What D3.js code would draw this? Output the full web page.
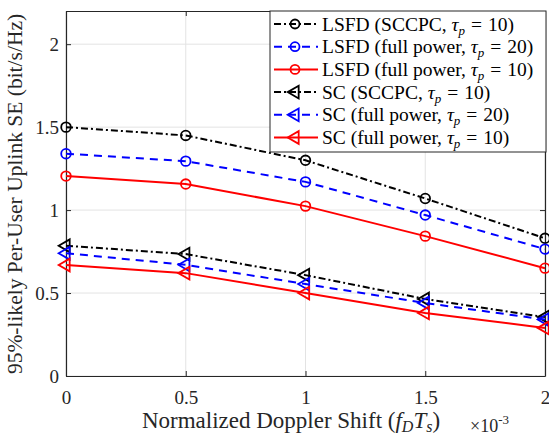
<!DOCTYPE html>
<html>
<head>
<meta charset="utf-8">
<script src="https://cdn.jsdelivr.net/npm/d3@7"></script>
<style>
body { margin: 0; background: #fff; }
text { font-family: "Liberation Serif", "DejaVu Serif", serif; }
</style>
</head>
<body>
<svg id="chart" width="549" height="436"></svg>
<script>

var doppler = [0, 0.5, 1, 1.5, 2];

var lsfdSccpc10 = [1.50, 1.45, 1.30, 1.07, 0.83];
var lsfdFull20  = [1.34, 1.295, 1.17, 0.97, 0.765];
var lsfdFull10  = [1.205, 1.157, 1.024, 0.843, 0.65];
var scSccpc10   = [0.785, 0.735, 0.608, 0.464, 0.355];
var scFull20    = [0.74, 0.67, 0.554, 0.44, 0.34];
var scFull10    = [0.669, 0.62, 0.50, 0.38, 0.29];

var xTicks = [0, 0.5, 1, 1.5, 2];
var yTicks = [0, 0.5, 1, 1.5, 2];

var series = [
    { name: 'LSFD', tag: 'SCCPC', tau: 10, values: lsfdSccpc10, color: '#000000', dash: '7,3,2,3', marker: 'circle' },
    { name: 'LSFD', tag: 'full power', tau: 20, values: lsfdFull20, color: '#0000ff', dash: '8,6', marker: 'circle' },
    { name: 'LSFD', tag: 'full power', tau: 10, values: lsfdFull10, color: '#ff0000', dash: null, marker: 'circle' },
    { name: 'SC', tag: 'SCCPC', tau: 10, values: scSccpc10, color: '#000000', dash: '7,3,2,3', marker: 'triangle' },
    { name: 'SC', tag: 'full power', tau: 20, values: scFull20, color: '#0000ff', dash: '8,6', marker: 'triangle' },
    { name: 'SC', tag: 'full power', tau: 10, values: scFull10, color: '#ff0000', dash: null, marker: 'triangle' }
];

var margin = { top: 11, right: 4, bottom: 60, left: 66 };
var width = 549 - margin.left - margin.right,
    height = 436 - margin.top - margin.bottom;

var svg = d3.select('#chart')
    .append('g')
    .attr('transform', 'translate(' + margin.left + ',' + margin.top + ')');

var x = d3.scaleLinear().domain([0, 2]).range([0, width]);
var y = d3.scaleLinear().domain([0, 2.2]).range([height, 0]);

// grid
svg.selectAll('.gx').data(xTicks).enter().append('line')
    .attr('x1', function (d) { return x(d); })
    .attr('x2', function (d) { return x(d); })
    .attr('y1', 0).attr('y2', height)
    .style('stroke', '#e3e3e3').style('stroke-width', 1);

svg.selectAll('.gy').data(yTicks).enter().append('line')
    .attr('y1', function (d) { return y(d); })
    .attr('y2', function (d) { return y(d); })
    .attr('x1', 0).attr('x2', width)
    .style('stroke', '#e3e3e3').style('stroke-width', 1);

// axes
var xAxis = svg.append('g')
    .attr('transform', 'translate(0,' + height + ')')
    .call(d3.axisBottom(x).tickValues(xTicks).tickSizeInner(-5).tickSizeOuter(0)
        .tickFormat(function (d) { return d3.format('')(d); }));

var yAxis = svg.append('g')
    .call(d3.axisLeft(y).tickValues(yTicks).tickSizeInner(-5).tickSizeOuter(0)
        .tickFormat(function (d) { return d3.format('')(d); }));

var yAxisR = svg.append('g')
    .attr('transform', 'translate(' + width + ',0)')
    .call(d3.axisRight(y).tickValues(yTicks).tickSizeInner(-5).tickSizeOuter(0).tickFormat(''));

var xAxisT = svg.append('g')
    .call(d3.axisTop(x).tickValues(xTicks).tickSizeInner(-5).tickSizeOuter(0).tickFormat(''));

[xAxis, yAxis, yAxisR, xAxisT].forEach(function (a) {
    a.select('.domain').style('stroke', '#262626').style('stroke-width', 1.2);
    a.selectAll('.tick line').style('stroke', '#262626');
    a.selectAll('.tick text')
        .style('font-family', '"Liberation Serif", serif')
        .style('font-size', '19px')
        .style('fill', '#262626');
});
xAxis.selectAll('.tick text').attr('y', 0).attr('dy', '28px');
yAxis.selectAll('.tick text').attr('x', -7).attr('dy', '0.34em');

// lines
var line = d3.line()
    .x(function (d, i) { return x(doppler[i]); })
    .y(function (d) { return y(d); });

var tri = d3.symbol().type(d3.symbolTriangle).size(70);

series.forEach(function (s) {

    svg.append('path')
        .datum(s.values)
        .attr('d', line)
        .style('fill', 'none')
        .style('stroke', s.color)
        .style('stroke-width', 2)
        .style('stroke-dasharray', s.dash);

    var m = svg.selectAll(null).data(s.values).enter();

    if (s.marker === 'circle') {
        m.append('circle')
            .attr('cx', function (d, i) { return x(doppler[i]); })
            .attr('cy', function (d) { return y(d); })
            .attr('r', 4.8)
            .style('fill', 'none')
            .style('stroke', s.color)
            .style('stroke-width', 1.8);
    } else {
        m.append('path')
            .attr('d', tri)
            .attr('transform', function (d, i) {
                return 'translate(' + x(doppler[i]) + ',' + y(d) + ') rotate(-90)';
            })
            .style('fill', 'none')
            .style('stroke', s.color)
            .style('stroke-width', 1.8);
    }
});

// axis labels
svg.append('text')
    .attr('x', 291 - margin.left)
    .attr('y', 428 - margin.top)
    .attr('text-anchor', 'middle')
    .style('font-size', '23px')
    .style('fill', '#262626')
    .html('Normalized Doppler Shift (<tspan font-style="italic">f</tspan><tspan font-style="italic" font-size="16px" dy="4">D</tspan><tspan font-style="italic" dy="-4">T</tspan><tspan font-style="italic" font-size="16px" dy="4">s</tspan><tspan dy="-4">)</tspan>');

svg.append('text')
    .attr('x', 470 - margin.left)
    .attr('y', 432 - margin.top)
    .style('font-size', '18px')
    .style('fill', '#262626')
    .html('×10<tspan font-size="13px" dy="-8">-3</tspan>');

svg.append('text')
    .attr('transform', 'translate(' + (22 - margin.left) + ',' + (194 - margin.top) + ') rotate(-90)')
    .attr('text-anchor', 'middle')
    .style('font-size', '21.5px')
    .style('fill', '#262626')
    .text('95%-likely Per-User Uplink SE (bit/s/Hz)');

// legend
var legend = svg.append('g')
    .attr('transform', 'translate(' + (270 - margin.left) + ',0)');

legend.append('rect')
    .attr('width', 276).attr('height', 141)
    .style('fill', '#fff')
    .style('stroke', '#262626')
    .style('stroke-width', 1);

series.forEach(function (s, i) {
    var ly = 13 + i * 22.7;
    var g = legend.append('g').attr('transform', 'translate(0,' + ly + ')');

    g.append('line')
        .attr('x1', 4).attr('x2', 48)
        .style('stroke', s.color)
        .style('stroke-width', 2)
        .style('stroke-dasharray', s.dash);

    if (s.marker === 'circle') {
        g.append('circle').attr('cx', 25).attr('r', 4.5)
            .style('fill', 'none').style('stroke', s.color).style('stroke-width', 1.8);
    } else {
        g.append('path').attr('d', tri).attr('transform', 'translate(25,0) rotate(-90)')
            .style('fill', 'none').style('stroke', s.color).style('stroke-width', 1.8);
    }

    g.append('text')
        .attr('x', 52)
        .attr('dy', '0.34em')
        .style('font-size', '19.5px')
        .style('fill', '#000')
        .html(s.name + ' (' + s.tag + ', <tspan font-style="italic">τ</tspan><tspan font-style="italic" font-size="13px" dy="4">p</tspan><tspan dy="-4" dx="6">=</tspan><tspan dx="6">' + s.tau + ')</tspan>');
});

</script>
</body>
</html>
